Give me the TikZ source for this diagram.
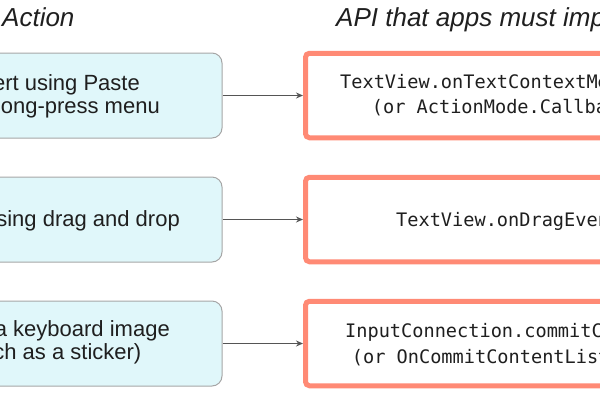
\documentclass[tikz,border=0pt]{standalone}
\usepackage{fontspec}
\setmainfont{Liberation Sans}
\setmonofont{DejaVu Sans Mono}
\usetikzlibrary{arrows.meta, positioning}

\definecolor{actfill}{HTML}{E0F7FA}
\definecolor{actline}{HTML}{A6A6A6}
\definecolor{apiline}{HTML}{FF8A75}
\definecolor{arrowgray}{HTML}{555555}
\definecolor{txt}{HTML}{1F1F1F}

\begin{document}
\begin{tikzpicture}[
    x=1pt, y=-1pt,
    node distance=38pt and 80.5pt,
    actbox/.style={rectangle, rounded corners=10pt, draw=actline, line width=1pt, fill=actfill, minimum width=382pt, minimum height=85pt},
    apibox/.style={rectangle, rounded corners=4pt, draw=apiline, line width=5pt, fill=white, minimum width=394.5pt, minimum height=84.5pt},
    head/.style={font=\fontsize{26}{31}\selectfont\itshape, text=txt, anchor=base west, inner sep=0pt},
    acttext/.style={font=\fontsize{22}{26}\selectfont, text=txt, anchor=base east, inner sep=0pt},
    apitext/.style={font=\fontsize{18.6}{23}\selectfont\ttfamily, text=txt, anchor=base west, inner sep=0pt},
    arrow/.style={-{Stealth[length=7pt, width=6pt]}, line width=1.3pt, draw=arrowgray}
]
\useasboundingbox (0,0) rectangle (600,400);
\clip (0,0) rectangle (600,400);

% column headings
\node[head] (hact) at (2,26.5) {Action};
\node[head] (hapi) at (336,26.5) {API that apps must imp};

% user actions
\node[actbox] (act1) at (31,95.5) {};
\node[actbox, below=of act1] (act2) {};
\node[actbox, below=of act2] (act3) {};

% APIs
\node[apibox, right=of act1] (api1) {};
\node[apibox, right=of act2] (api2) {};
\node[apibox, right=of act3] (api3) {};

\node[acttext] (a1a) at (140,90.5) {ert using Paste};
\node[acttext] (a1b) at (160,113.5) {ong-press menu};
\node[acttext] (a2a) at (180,226.5) {sing drag and drop};
\node[acttext] (a3a) at (170,336.5) {a keyboard image};
\node[acttext] (a3b) at (141.5,359.5) {ch as a sticker)};

\node[apitext] (p1a) at (340,88.3) {TextView.onTextContextMe};
\node[apitext] (p1b) at (371.7,113.3) {(or ActionMode.Callba};
\node[apitext] (p2a) at (396,226.7) {TextView.onDragEven};
\node[apitext] (p3a) at (345,337.5) {InputConnection.commitC};
\node[apitext] (p3b) at (351.7,363) {(or OnCommitContentList};

\draw[arrow] (act1) -- (api1);
\draw[arrow] (act2) -- (api2);
\draw[arrow] (act3) -- (api3);
\end{tikzpicture}
\end{document}
